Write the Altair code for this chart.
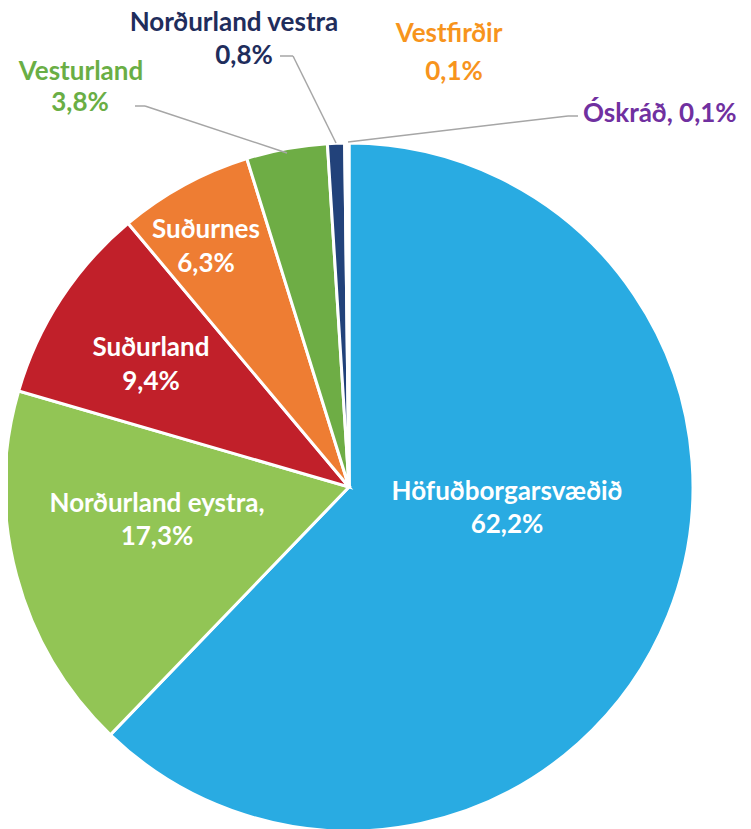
import altair as alt
import pandas as pd

regions = ["Höfuðborgarsvæðið", "Norðurland eystra", "Suðurland", "Suðurnes",
           "Vesturland", "Norðurland vestra", "Vestfirðir", "Óskráð"]
shares = [62.2, 17.3, 9.4, 6.3, 3.8, 0.8, 0.1, 0.1]
slice_colors = ["#29ABE2", "#92C555", "#C1202A", "#EE7D33",
                "#6EAD45", "#22427A", "#F7941D", "#7030A0"]

# label lines (text, colour) - layout handled separately
label_lines = [
    ("Höfuðborgarsvæðið", "#FFFFFF"), ("62,2%", "#FFFFFF"),
    ("Norðurland eystra,", "#FFFFFF"), ("17,3%", "#FFFFFF"),
    ("Suðurland", "#FFFFFF"), ("9,4%", "#FFFFFF"),
    ("Suðurnes", "#FFFFFF"), ("6,3%", "#FFFFFF"),
    ("Vesturland", "#6AAE45"), ("3,8%", "#6AAE45"),
    ("Norðurland vestra", "#1F2D5C"), ("0,8%", "#1F2D5C"),
    ("Vestfirðir", "#F7941D"), ("0,1%", "#F7941D"),
    ("Óskráð, 0,1%", "#7030A0"),
]

# layout (image pixels, converted to view pixels below)
OFF = 8
CX, CY, R = 349 - OFF, 487 - OFF, 344
label_x = [507, 507, 157, 157, 151, 151, 206, 206, 81, 80, 234, 244, 449, 454, 583]
label_y = [500, 533, 512, 545, 356, 390, 238, 272, 80, 111, 31, 64, 42, 80, 122]
label_align = ["center"] * 14 + ["left"]

leader_x = [135, 145, 280, 293, 578, 568]
leader_y = [106, 106, 56, 56, 116, 116]
leader_x2 = [145, 287, 293, 336, 568, 348]
leader_y2 = [106, 153, 56, 143, 116, 142]

pie_df = pd.DataFrame({"region": regions, "share": shares,
                       "order": list(range(len(regions)))})

lab_df = pd.DataFrame({
    "text": [t for t, _ in label_lines],
    "color": [c for _, c in label_lines],
    "x": [v - OFF for v in label_x],
    "y": [v - OFF for v in label_y],
    "align": label_align,
})
lead_df = pd.DataFrame({
    "x": [v - OFF for v in leader_x], "y": [v - OFF for v in leader_y],
    "x2": [v - OFF for v in leader_x2], "y2": [v - OFF for v in leader_y2],
})

pie = alt.Chart(pie_df).mark_arc(
    outerRadius=R, stroke="white", strokeWidth=3
).encode(
    theta=alt.Theta("share:Q", stack=True),
    order=alt.Order("order:Q"),
    color=alt.Color("region:N", scale=alt.Scale(domain=regions, range=slice_colors), legend=None),
    x=alt.value(CX), y=alt.value(CY),
)

leaders = alt.Chart(lead_df).mark_rule(color="#A6A6A6", strokeWidth=1.5).encode(
    x=alt.X("x:Q", scale=None), y=alt.Y("y:Q", scale=None),
    x2="x2:Q", y2="y2:Q",
)

def text_layer(align):
    return alt.Chart(lab_df[lab_df["align"] == align]).mark_text(
        font="Lato", fontWeight="bold", fontSize=26, align=align, baseline="alphabetic"
    ).encode(
        x=alt.X("x:Q", scale=None), y=alt.Y("y:Q", scale=None),
        text="text:N",
        color=alt.Color("color:N", scale=None),
    )

chart = alt.layer(pie, leaders, text_layer("center"), text_layer("left")).properties(
    width=735, height=821, autosize="none", padding=0
).configure_view(stroke=None)

chart.save("out.html", embed_options={"renderer": "svg", "actions": False})
